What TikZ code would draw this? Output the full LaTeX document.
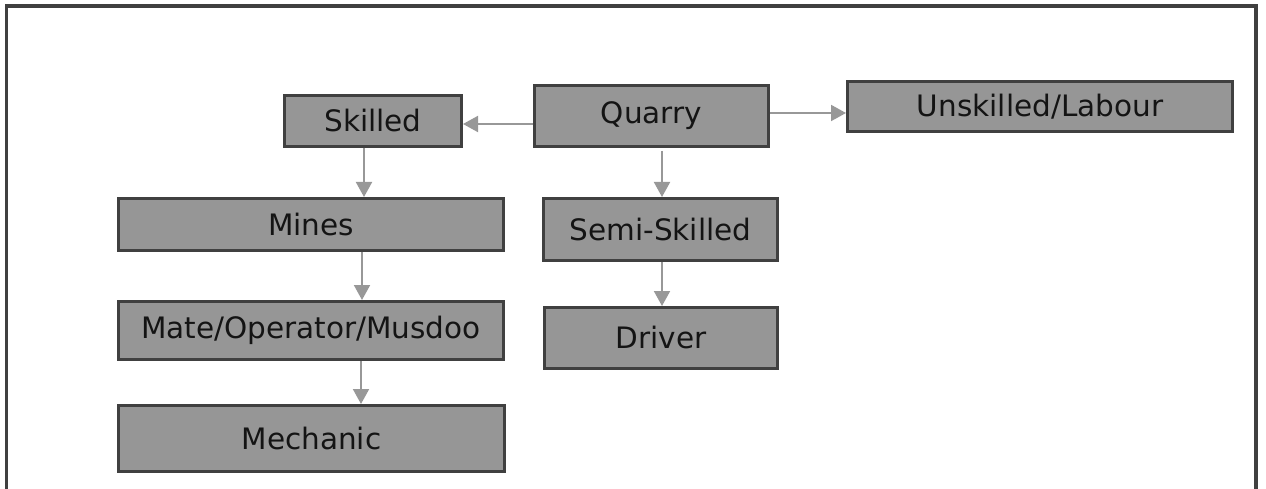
\documentclass[tikz,border=0pt]{standalone}
\usepackage{fontspec}
\setmainfont{DejaVu Sans}
\usetikzlibrary{arrows.meta}
\definecolor{boxfill}{HTML}{969696}
\definecolor{boxline}{HTML}{404040}
\definecolor{arrowgray}{HTML}{989898}
\begin{document}
\begin{tikzpicture}[x=1pt,y=-1pt,
  box/.style={draw=boxline, line width=3pt, fill=boxfill, inner sep=0pt,
    font=\fontsize{29.5}{35}\selectfont, text=black!92},
  arr/.style={draw=arrowgray, line width=2pt, -{Triangle[length=15pt,width=16pt]}}]
\useasboundingbox (0,0) rectangle (1266,489);
\draw[boxline, line width=3.5pt] (6.5,492) -- (6.5,6) -- (1256,6) -- (1256,492);

\node[box, minimum width=177pt, minimum height=51pt] (skilled) at (373,121) {Skilled};
\node[box, minimum width=234pt, minimum height=61pt] (quarry) at (651.5,116) {Quarry};
\node[box, minimum width=385pt, minimum height=50pt] (unsk) at (1040,106.5) {Unskilled/Labour};
\node[box, minimum width=385pt, minimum height=52pt] (mines) at (311,224.5) {Mines};
\node[box, minimum width=234pt, minimum height=62pt] (semi) at (660.5,229.5) {Semi-Skilled};
\node[box, minimum width=385pt, minimum height=58pt] (mate) at (311,330.5) {Mate/Operator/Musdoo};
\node[box, minimum width=233pt, minimum height=61pt] (driver) at (661,338) {Driver};
\node[box, minimum width=386pt, minimum height=66pt] (mech) at (311.5,438.5) {Mechanic};

\coordinate (q1) at ([yshift=-8pt]quarry.west);
\draw[arr] (q1) -- (q1 -| skilled.east);
\coordinate (q2) at ([yshift=3pt]quarry.east);
\draw[arr] (q2) -- (q2 -| unsk.west);
\coordinate (q3) at ([xshift=10.5pt,yshift=-3pt]quarry.south);
\draw[arr] (q3) -- (q3 |- semi.north);
\coordinate (s1) at ([xshift=-9pt]skilled.south);
\draw[arr] (s1) -- (s1 |- mines.north);
\coordinate (m1) at ([xshift=51pt]mines.south);
\draw[arr] (m1) -- (m1 |- mate.north);
\coordinate (m2) at ([xshift=50pt]mate.south);
\draw[arr] (m2) -- (m2 |- mech.north);
\coordinate (d1) at ([xshift=1.5pt]semi.south);
\draw[arr] (d1) -- (d1 |- driver.north);
\end{tikzpicture}
\end{document}
